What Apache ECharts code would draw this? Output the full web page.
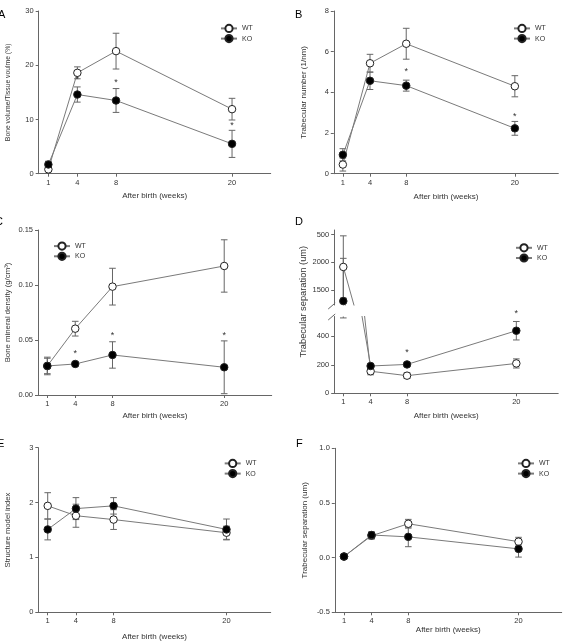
<!DOCTYPE html>
<html>
<head>
<meta charset="utf-8">
<script src="https://cdn.jsdelivr.net/npm/echarts@6/dist/echarts.min.js"></script>
<style>
  html, body { margin: 0; padding: 0; background: #fff; }
  #main { width: 565px; height: 643px; }
</style>
</head>
<body>
<div id="main"></div>
<script>
const weeks = [1, 4, 8, 20];
const weekTicks = [1, 4, 8, 20];

// A - bone volume / tissue volume (%)
const wtA = [0.8, 18.6, 22.6, 11.9];
const wtAErr = [0.3, 1.1, 3.3, 2.0];
const koA = [1.7, 14.6, 13.5, 5.5];
const koAErr = [0.6, 1.4, 2.2, 2.5];
const starsA = [[4, 17.3], [8, 16.8], [20, 8.8]];

// B - trabecular number
const wtB = [0.45, 5.43, 6.39, 4.3];
const wtBErr = [0.32, 0.44, 0.76, 0.52];
const koB = [0.93, 4.57, 4.33, 2.23];
const koBErr = [0.3, 0.43, 0.27, 0.34];
const starsB = [[8, 5.0], [20, 2.8]];

// C - bone mineral density
const wtC = [0.0264, 0.0603, 0.0985, 0.1173];
const wtCErr = [0.007, 0.0067, 0.0167, 0.0238];
const koC = [0.0264, 0.0282, 0.0364, 0.0252];
const koCErr = [0.008, 0.002, 0.012, 0.024];
const starsC = [[4, 0.038], [8, 0.0545], [20, 0.0545]];

// D - trabecular separation (broken axis)
const wtD = [1915, 155, 124, 210];
const wtDErr = [560, 25, 20, 32];
const koD = [1300, 192, 203, 440];
const koDErr = [770, 15, 10, 65];
const starsD = [[8, 285], [20, 563]];
const dUpperTicks = [1500, 2000, 2500];
const dUpperLabels = ['1500', '2000', '500'];
const dLowerTicks = [0, 200, 400];

// E - structure model index
const wtE = [1.94, 1.76, 1.69, 1.45];
const wtEErr = [0.24, 0.21, 0.18, 0.12];
const koE = [1.51, 1.89, 1.94, 1.51];
const koEErr = [0.19, 0.2, 0.15, 0.19];

// F
const wtF = [0.01, 0.2, 0.31, 0.146];
const wtFErr = [0.01, 0.03, 0.04, 0.04];
const koF = [0.01, 0.207, 0.19, 0.08];
const koFErr = [0.01, 0.03, 0.09, 0.075];

const FONT = '"Liberation Sans", Arial, sans-serif';
const AXIS = '#666';
const LINE = '#7a7a7a';
const TXT = '#333';

const grids = [], xAxes = [], yAxes = [], series = [], legends = [];

function pairs(vals) {
  return weeks.map((w, i) => [w, vals[i]]);
}
function bars(vals, errs) {
  return weeks.map((w, i) => [w, vals[i] - errs[i], vals[i] + errs[i]]);
}

function addGrid(box) {
  grids.push(Object.assign({ containLabel: false, outerBoundsMode: 'none' }, box));
  return grids.length - 1;
}

function addX(gi, max, show, nameGap) {
  xAxes.push({
    gridIndex: gi, type: 'value', min: 0, max: max, show: show,
    name: 'After birth (weeks)', nameLocation: 'middle', nameGap: nameGap,
    nameTextStyle: { fontFamily: FONT, fontSize: 8, color: TXT },
    axisLine: { onZero: false, lineStyle: { color: AXIS, width: 1 } },
    axisTick: { length: 3, customValues: weekTicks, lineStyle: { color: AXIS } },
    axisLabel: { customValues: weekTicks, fontFamily: FONT, fontSize: 7.5, color: TXT, margin: 5 },
    splitLine: { show: false }
  });
  return xAxes.length - 1;
}

function addY(gi, o) {
  yAxes.push({
    gridIndex: gi, type: 'value', min: o.min, max: o.max, interval: o.interval,
    name: o.name || '', nameLocation: 'middle', nameGap: o.nameGap || 0,
    nameTextStyle: { fontFamily: FONT, fontSize: o.nameSize || 8, color: TXT },
    axisLine: { show: true, onZero: false, lineStyle: { color: AXIS, width: 1 } },
    axisTick: { show: true, length: 3, customValues: o.ticks, lineStyle: { color: AXIS } },
    axisLabel: { customValues: o.ticks, formatter: o.fmt, fontFamily: FONT, fontSize: 7.5, color: TXT, margin: 5 },
    splitLine: { show: false }
  });
  return yAxes.length - 1;
}

function errSeries(xi, yi, data, clip) {
  return {
    type: 'custom', xAxisIndex: xi, yAxisIndex: yi, data: data, clip: clip, z: 1,
    encode: { x: 0, y: [1, 2] }, silent: true,
    renderItem(params, api) {
      const x = api.value(0);
      const lo = api.coord([x, api.value(1)]);
      const hi = api.coord([x, api.value(2)]);
      const w = 3.3;
      const st = { stroke: '#666', lineWidth: 1 };
      return {
        type: 'group', children: [
          { type: 'line', shape: { x1: lo[0], y1: lo[1], x2: hi[0], y2: hi[1] }, style: st },
          { type: 'line', shape: { x1: lo[0] - w, y1: lo[1], x2: lo[0] + w, y2: lo[1] }, style: st },
          { type: 'line', shape: { x1: hi[0] - w, y1: hi[1], x2: hi[0] + w, y2: hi[1] }, style: st }
        ]
      };
    }
  };
}

function lineSeries(name, xi, yi, data, fill) {
  return {
    type: 'line', name: name, xAxisIndex: xi, yAxisIndex: yi, data: data,
    symbol: 'circle', symbolSize: 7.5, clip: true, z: name === 'KO' ? 4 : 3,
    lineStyle: { color: LINE, width: 1 },
    itemStyle: { color: fill, borderColor: '#222', borderWidth: 1 }
  };
}

function starSeries(xi, yi, data) {
  return {
    type: 'custom', xAxisIndex: xi, yAxisIndex: yi, data: data, clip: false, z: 5, silent: true,
    renderItem(params, api) {
      const p = api.coord([api.value(0), api.value(1)]);
      return {
        type: 'text', x: p[0], y: p[1],
        style: { text: '*', fill: TXT, font: '9px ' + FONT, align: 'center', verticalAlign: 'middle' }
      };
    }
  };
}

function addData(xi, yi, wt, wtErr, ko, koErr, clip) {
  series.push(errSeries(xi, yi, bars(wt, wtErr), clip));
  series.push(errSeries(xi, yi, bars(ko, koErr), clip));
  series.push(lineSeries('WT', xi, yi, pairs(wt), '#fff'));
  series.push(lineSeries('KO', xi, yi, pairs(ko), '#000'));
}

function addLegend(left, top) {
  legends.push({
    left: left, top: top, orient: 'vertical', padding: 0, itemGap: 1,
    itemWidth: 16, itemHeight: 9, selectedMode: false, data: ['WT', 'KO'],
    textStyle: { fontFamily: FONT, fontSize: 7, color: TXT, lineHeight: 9 }
  });
}

function panel(p) {
  const gi = addGrid(p.box);
  const xi = addX(gi, p.xMax, true, p.xNameGap);
  const yi = addY(gi, p.y);
  addData(xi, yi, p.wt, p.wtErr, p.ko, p.koErr, false);
  if (p.stars) series.push(starSeries(xi, yi, p.stars));
  addLegend(p.legend[0], p.legend[1]);
}

panel({
  box: { left: 38.7, top: 11, width: 232, height: 162.7 }, xMax: 24, xNameGap: 18,
  y: { min: 0, max: 30, interval: 10, name: 'Bone volume/Tissue voulme (%)', nameGap: 27, nameSize: 6.8 },
  wt: wtA, wtErr: wtAErr, ko: koA, koErr: koAErr, stars: starsA, legend: [220, 23.8]
});
panel({
  box: { left: 333.8, top: 11, width: 224.5, height: 162.7 }, xMax: 24.8, xNameGap: 19,
  y: { min: 0, max: 8, interval: 2, name: 'Trabecular number (1/nm)', nameGap: 26 },
  wt: wtB, wtErr: wtBErr, ko: koB, koErr: koBErr, stars: starsB, legend: [513, 23.8]
});
panel({
  box: { left: 38, top: 230, width: 233.7, height: 165 }, xMax: 25.1, xNameGap: 17,
  y: { min: 0, max: 0.15, interval: 0.05, name: 'Bone mineral density (g/cm³)', nameGap: 26,
       nameSize: 7.8, fmt: v => v.toFixed(2) },
  wt: wtC, wtErr: wtCErr, ko: koC, koErr: koCErr, stars: starsC, legend: [53, 241.5]
});
panel({
  box: { left: 38.3, top: 447.7, width: 232.4, height: 164.6 }, xMax: 24.7, xNameGap: 20,
  y: { min: 0, max: 3, interval: 1, name: 'Structure model index', nameGap: 26, nameSize: 7.7 },
  wt: wtE, wtErr: wtEErr, ko: koE, koErr: koEErr, legend: [223.7, 458.8]
});
panel({
  box: { left: 334.8, top: 448.3, width: 226.9, height: 164 }, xMax: 24.7, xNameGap: 11,
  y: { min: -0.5, max: 1.0, interval: 0.5, name: 'Trabecular separation (um)', nameGap: 26,
       fmt: v => v.toFixed(1) },
  wt: wtF, wtErr: wtFErr, ko: koF, koErr: koFErr, legend: [517, 458.8]
});

// D: two stacked grids sharing the x positions, y axis broken between them
const dUpper = { left: 334.2, top: 230, width: 224, height: 75 };
const dLower = { left: 334.2, top: 316.5, width: 224, height: 76.8 };
const gU = addGrid(dUpper);
const xU = addX(gU, 24.6, false, 0);
const yU = addY(gU, { min: 1230, max: 2580, ticks: dUpperTicks,
  fmt: v => dUpperLabels[dUpperTicks.indexOf(v)] });
addData(xU, yU, wtD, wtDErr, koD, koDErr, true);
const gL = addGrid(dLower);
const xL = addX(gL, 24.6, true, 18);
const yL = addY(gL, { min: 0, max: 540, ticks: dLowerTicks });
addData(xL, yL, wtD, wtDErr, koD, koDErr, true);
series.push(starSeries(xL, yL, starsD));
addLegend(515, 243.2);

function letter(t, x, y) {
  return { type: 'text', x: x, y: y, style: { text: t, fill: '#000', font: '11px ' + FONT, verticalAlign: 'middle' } };
}
const brk = dUpper.left;
const graphics = [
  letter('A', -2, 15), letter('B', 295, 15),
  letter('C', -5, 222), letter('D', 295, 222),
  letter('E', -3, 443.5), letter('F', 296, 443.5),
  { type: 'text', x: 303, y: 301.7, rotation: Math.PI / 2,
    style: { text: 'Trabecular separation (um)', fill: TXT, font: '9.3px ' + FONT, align: 'center', verticalAlign: 'middle' } },
  { type: 'line', shape: { x1: brk - 6, y1: 309, x2: brk + 1, y2: 303 }, style: { stroke: AXIS, lineWidth: 1 } },
  { type: 'line', shape: { x1: brk - 6, y1: 320, x2: brk + 1, y2: 314 }, style: { stroke: AXIS, lineWidth: 1 } }
];

const chart = echarts.init(document.getElementById('main'), null, { renderer: 'canvas' });
chart.setOption({
  animation: false,
  backgroundColor: '#fff',
  grid: grids,
  xAxis: xAxes,
  yAxis: yAxes,
  legend: legends,
  series: series,
  graphic: graphics
});
</script>
</body>
</html>
